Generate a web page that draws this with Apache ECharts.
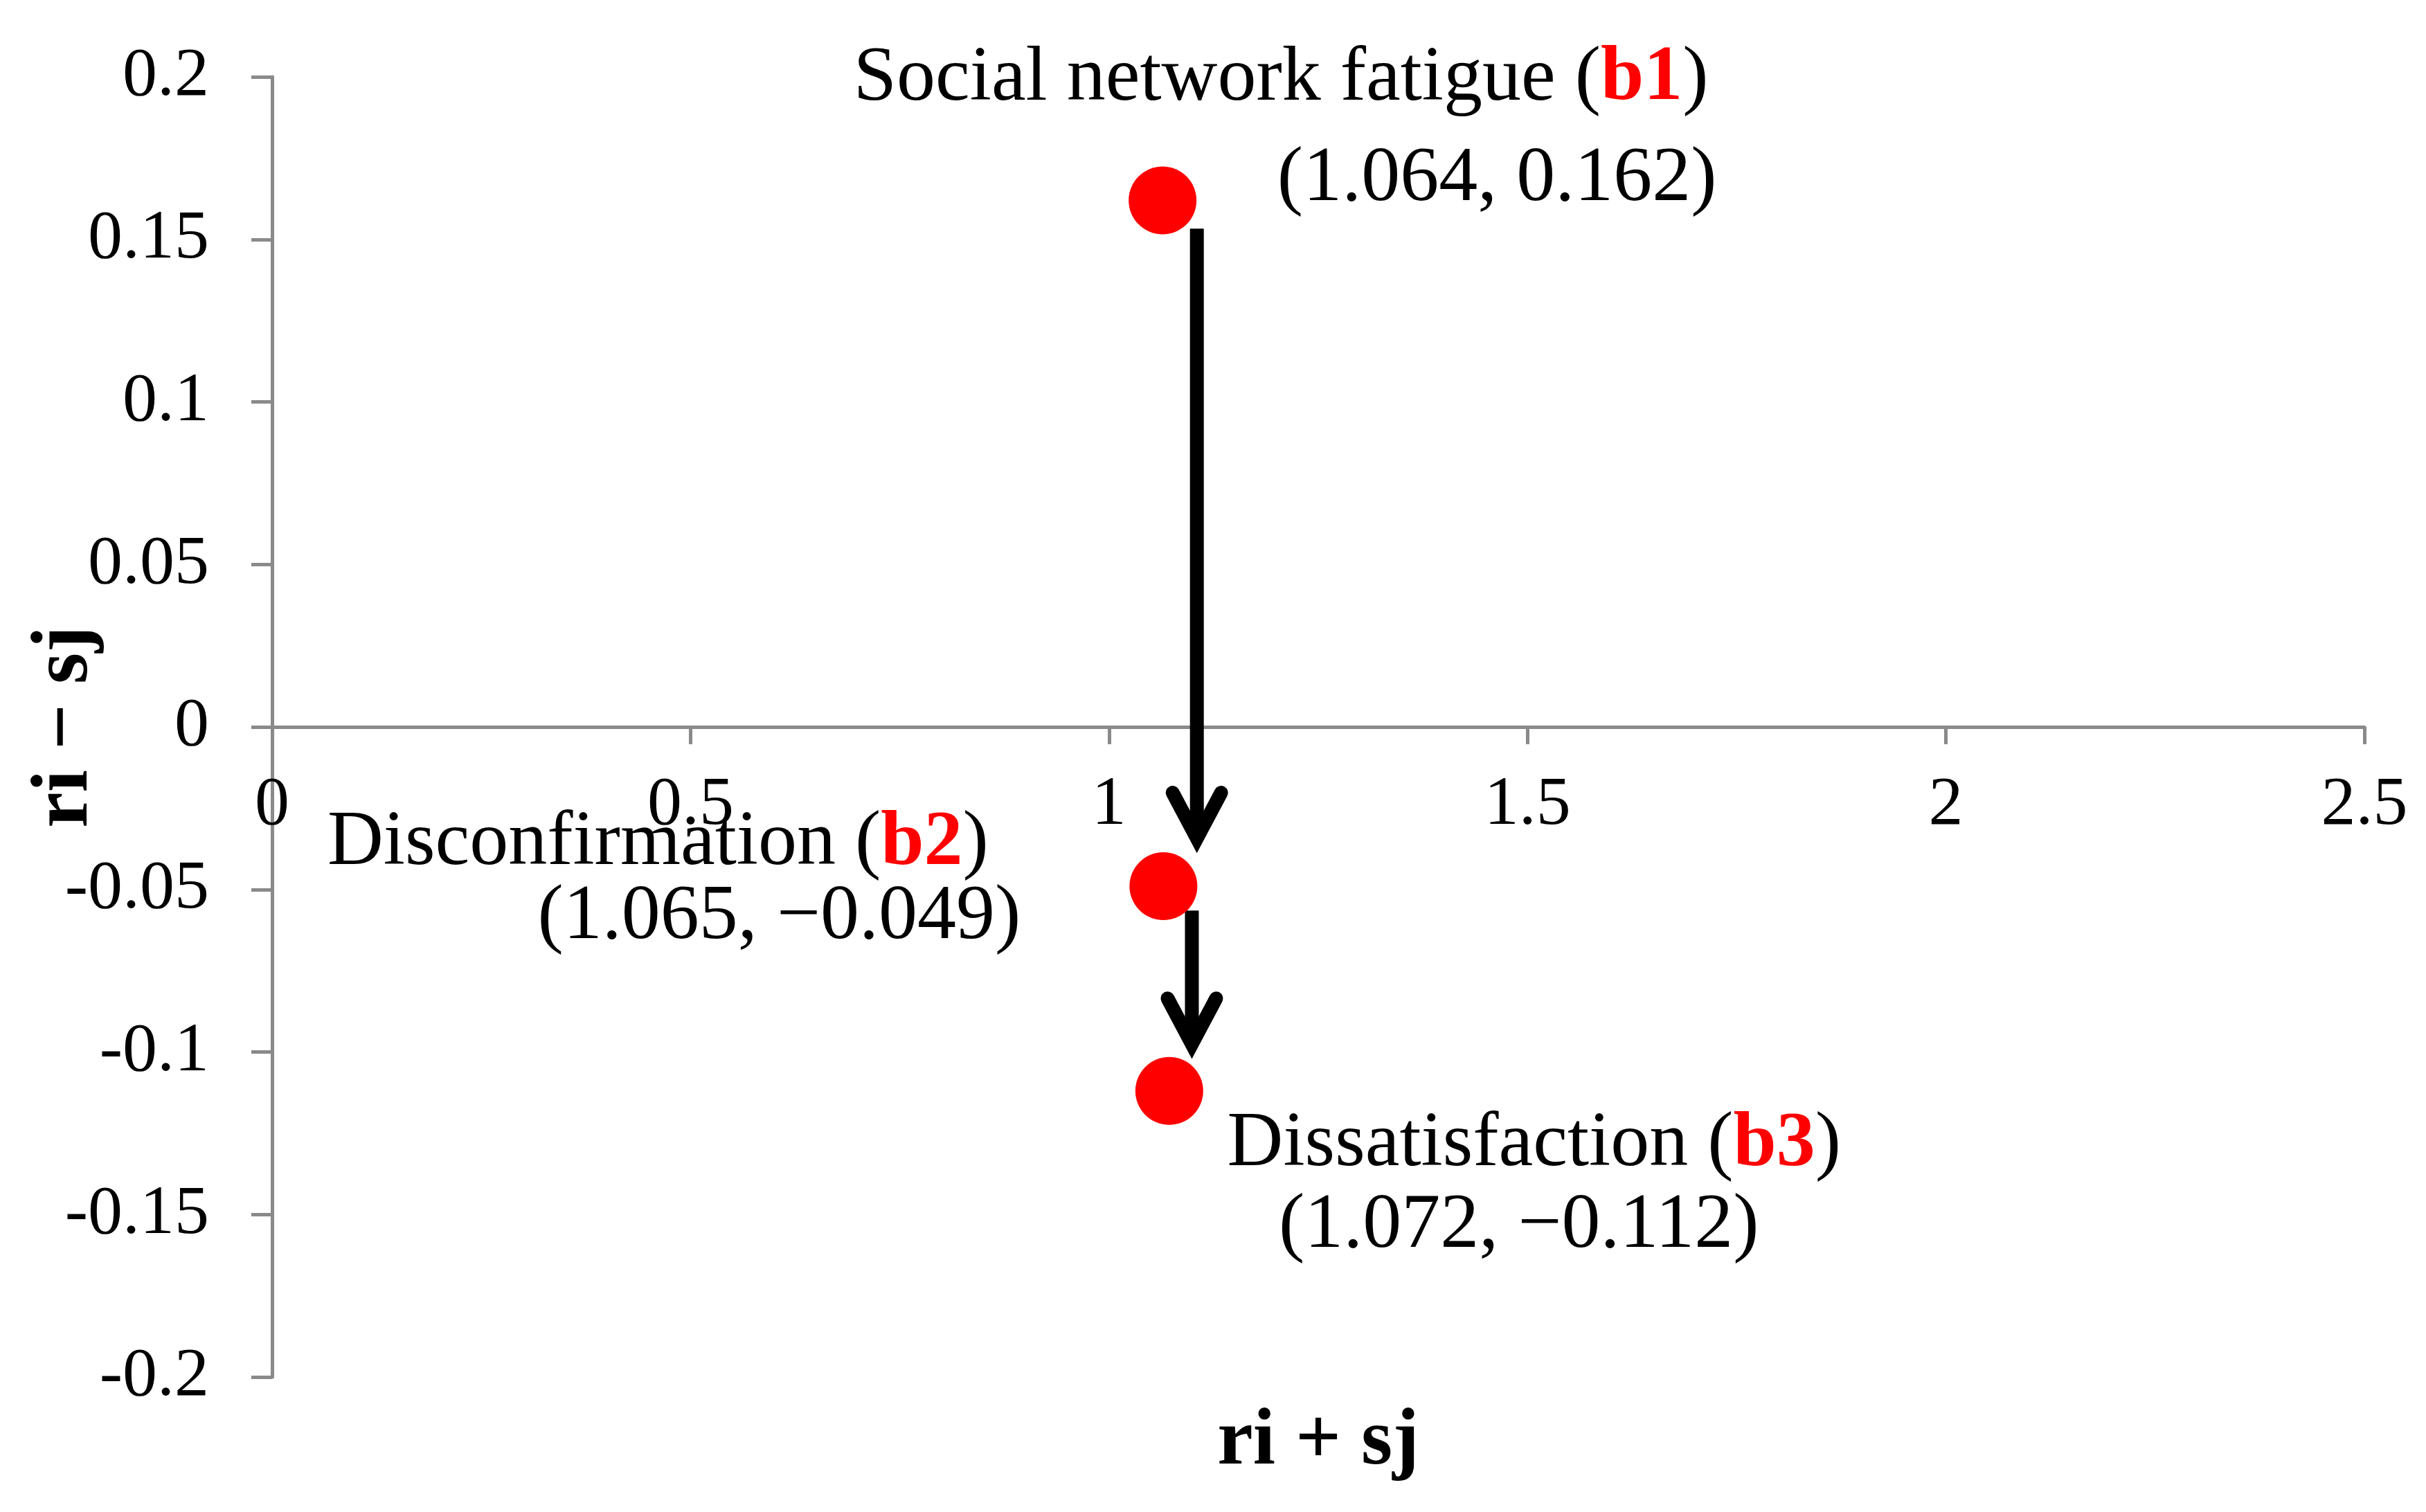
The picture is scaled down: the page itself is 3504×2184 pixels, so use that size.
<!DOCTYPE html>
<html>
<head>
<meta charset="utf-8">
<title>ri + sj / ri − sj</title>
<script src="https://cdn.jsdelivr.net/npm/echarts@6/dist/echarts.min.js"></script>
<style>
  html, body { margin: 0; padding: 0; background: #fff; }
  #chart { width: 3504px; height: 2184px; }
</style>
</head>
<body>
<div id="chart"></div>
<script>
// factors
const codes = ['b1', 'b2', 'b3']
const names = ['Social network fatigue', 'Disconfirmation', 'Dissatisfaction']
const riPlusSj = [1.064, 1.065, 1.072]
const riMinusSj = [0.162, -0.049, -0.112]
const coordText = ['(1.064, 0.162)', '(1.065, \u22120.049)', '(1.072, \u22120.112)']

// arrows between factors (x, y start, y end)
const arrowX = [1.105, 1.099]
const arrowFrom = [0.1533, -0.0565]
const arrowTo = [-0.0377, -0.101]

// axis ticks
const xMin = 0, xMax = 2.5, xStep = 0.5
const yMin = -0.2, yMax = 0.2, yStep = 0.05

const FONT = 'Liberation Serif, Times New Roman, serif'

// label placement around each point (pixels)
const nameOffsets = [[171, -175], [-730, -61], [527, 78]]
const coordOffsets = [[483, -30], [-555, 46], [505, 196]]

const chart = echarts.init(document.getElementById('chart'))

const labelStyle = {
  fontFamily: FONT,
  fontSize: 112,
  color: '#000'
}

chart.setOption({
  backgroundColor: '#fff',
  animation: false,
  grid: { left: 393, right: 89, top: 111, bottom: 195, containLabel: false, outerBoundsMode: 'none' },
  xAxis: {
    type: 'value',
    position: 'bottom',
    min: xMin,
    max: xMax,
    interval: xStep,
    name: 'ri + sj',
    nameLocation: 'middle',
    nameGap: 976,
    nameMoveOverlap: false,
    nameTextStyle: { fontFamily: FONT, fontSize: 116, fontWeight: 'bold', color: '#000' },
    axisLine: { onZero: false, lineStyle: { color: '#8a8a8a', width: 5 } },
    axisTick: { show: true, length: 25, lineStyle: { color: '#8a8a8a', width: 5 } },
    axisLabel: { fontFamily: FONT, fontSize: 100, color: '#000', margin: 64 },
    splitLine: { show: false }
  },
  yAxis: {
    type: 'value',
    min: yMin,
    max: yMax,
    interval: yStep,
    name: 'ri \u2212 sj',
    nameLocation: 'middle',
    nameRotate: 90,
    nameGap: 240,
    nameMoveOverlap: false,
    nameTextStyle: { fontFamily: FONT, fontSize: 116, fontWeight: 'bold', color: '#000' },
    axisLine: { show: true, onZero: false, lineStyle: { color: '#8a8a8a', width: 5 } },
    axisTick: { show: true, length: 30, lineStyle: { color: '#8a8a8a', width: 5 } },
    axisLabel: { fontFamily: FONT, fontSize: 100, color: '#000', margin: 91 },
    splitLine: { show: false }
  },
  series: [
    {
      name: 'arrows',
      type: 'custom',
      z: 3,
      data: arrowX.map((x, i) => [x, arrowFrom[i], arrowTo[i]]),
      renderItem: function (params, api) {
        const p1 = api.coord([api.value(0), api.value(1)])
        const p2 = api.coord([api.value(0), api.value(2)])
        const tipY = p2[1] - 16
        return {
          type: 'group',
          children: [
            {
              type: 'line',
              shape: { x1: p1[0], y1: p1[1], x2: p2[0], y2: tipY - 4 },
              style: { stroke: '#000', lineWidth: 20, lineCap: 'butt' }
            },
            {
              type: 'polyline',
              shape: { points: [[p2[0] - 35, tipY - 66], [p2[0], tipY], [p2[0] + 35, tipY - 66]] },
              style: { stroke: '#000', lineWidth: 20, fill: null, lineJoin: 'miter', lineCap: 'round' }
            }
          ]
        }
      }
    },
    {
      name: 'factors',
      type: 'scatter',
      z: 4,
      symbol: 'circle',
      symbolSize: 98,
      itemStyle: { color: '#ff0000', opacity: 1 },
      data: riPlusSj.map((x, i) => [x, riMinusSj[i]])
    },
    {
      name: 'names',
      type: 'scatter',
      z: 5,
      symbolSize: 1,
      itemStyle: { color: 'rgba(0,0,0,0)', opacity: 1 },
      data: riPlusSj.map((x, i) => ({
        value: [x, riMinusSj[i]],
        label: {
          show: true,
          opacity: 1,
          position: 'inside',
          align: 'center',
          verticalAlign: 'middle',
          offset: nameOffsets[i],
          formatter: '{n|' + names[i] + ' (}{b|' + codes[i] + '}{n|)}',
          rich: {
            n: labelStyle,
            b: Object.assign({}, labelStyle, { color: '#ff0000', fontWeight: 'bold' })
          }
        }
      }))
    },
    {
      name: 'coords',
      type: 'scatter',
      z: 5,
      symbolSize: 1,
      itemStyle: { color: 'rgba(0,0,0,0)', opacity: 1 },
      data: riPlusSj.map((x, i) => ({
        value: [x, riMinusSj[i]],
        label: Object.assign({
          show: true,
          opacity: 1,
          position: 'inside',
          align: 'center',
          verticalAlign: 'middle',
          offset: coordOffsets[i],
          formatter: coordText[i]
        }, labelStyle)
      }))
    }
  ]
})

// move the x axis (line, ticks, labels, name) up to y = 0
const zeroY = chart.convertToPixel({ yAxisIndex: 0 }, 0)
const bottomY = chart.convertToPixel({ yAxisIndex: 0 }, yMin)
chart.setOption({ xAxis: { offset: zeroY - bottomY } })
</script>
</body>
</html>
